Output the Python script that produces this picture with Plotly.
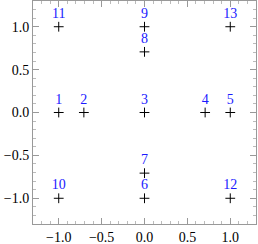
import plotly.graph_objects as go

labels = ["1", "2", "3", "4", "5", "6", "7", "8", "9", "10", "11", "12", "13"]
xs = [-1.0, -0.707, 0.0, 0.707, 1.0, 0.0, 0.0, 0.0, 0.0, -1.0, -1.0, 1.0, 1.0]
ys = [0.0, 0.0, 0.0, 0.0, 0.0, -1.0, -0.707, 0.707, 1.0, -1.0, 1.0, -1.0, 1.0]
tick_vals = [-1.0, -0.5, 0.0, 0.5, 1.0]

SERIF = "'Liberation Serif', 'Times New Roman', 'DejaVu Serif', serif"

fig = go.Figure(go.Scatter(
    x=xs, y=ys, mode="markers+text", text=labels, textposition="top center",
    textfont=dict(family=SERIF, size=14, color="#1a1aff"),
    marker=dict(symbol="cross-thin", size=7, line=dict(color="black", width=1), color="black"),
    cliponaxis=False,
))

axis_common = dict(
    range=[-1.3, 1.3], tickvals=tick_vals, tickformat=".1f",
    ticks="inside", ticklen=6, tickcolor="#999999", tickwidth=1,
    showline=True, linecolor="#999999", linewidth=1, mirror="ticks",
    showgrid=False, zeroline=False,
    tickfont=dict(family=SERIF, size=14, color="black"),
    minor=dict(ticks="inside", ticklen=3, dtick=0.1, tickcolor="#bbbbbb", showgrid=False),
)

fig.update_layout(
    width=258, height=244,
    margin=dict(l=33, r=2, t=1, b=20, autoexpand=False),
    plot_bgcolor="white", paper_bgcolor="white",
    showlegend=False,
    font=dict(family=SERIF),
    xaxis=axis_common,
    yaxis=axis_common,
)

fig.write_html(
    "out.html",
    config={"displayModeBar": False, "staticPlot": True},
    post_script="document.body.style.margin='0';document.body.style.padding='0';",
)
